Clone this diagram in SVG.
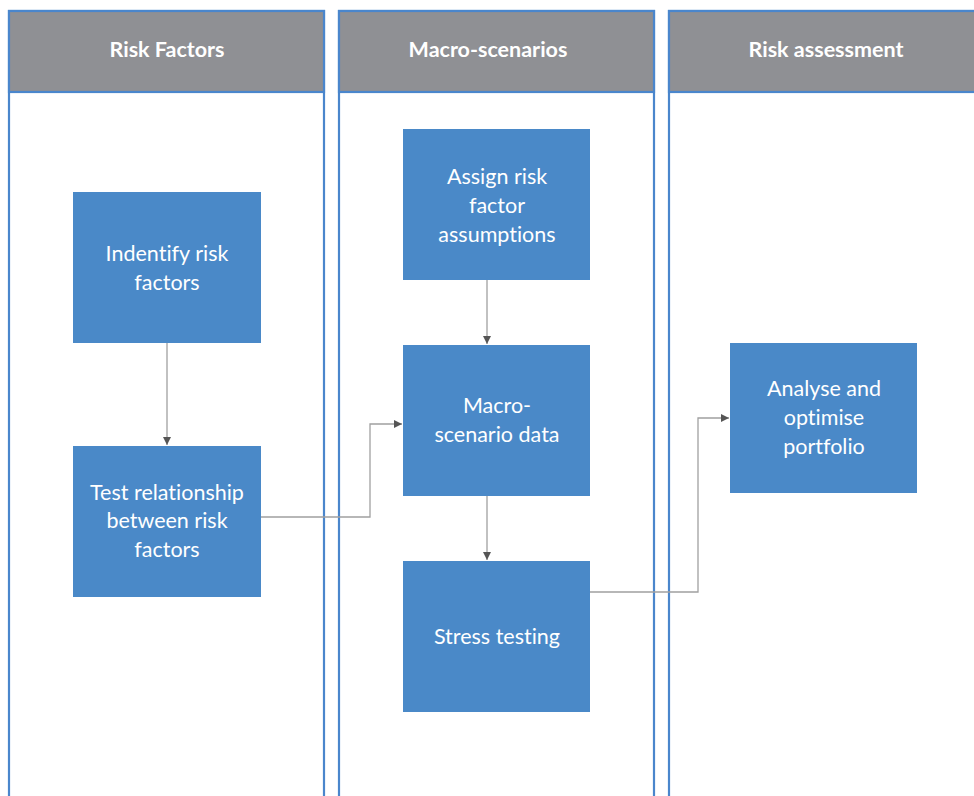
<svg xmlns="http://www.w3.org/2000/svg" width="974" height="796" viewBox="0 0 974 796">
<defs>
<style>
.lane{fill:#ffffff;stroke:#4a86cc;stroke-width:2.2}
.hdr{fill:#8f9094;stroke:#4a86cc;stroke-width:2.2}
.htxt{font-family:"Lato","Open Sans",sans-serif;font-weight:bold;font-size:21.5px;fill:#ffffff;text-anchor:middle;font-variant-ligatures:none}
.box{fill:#4a89c8}
.ntxt{font-family:"Lato","Open Sans",sans-serif;font-size:21.5px;fill:#ffffff;text-anchor:middle;font-variant-ligatures:none}
.con{fill:none;stroke:#a0a0a0;stroke-width:1.3}
</style>
<marker id="arr" markerWidth="10" markerHeight="10" refX="8" refY="4" orient="auto" markerUnits="userSpaceOnUse">
<path d="M0,0 L8,4 L0,8 Z" fill="#555555"/>
</marker>
</defs>
<rect width="974" height="796" fill="#ffffff"/>
<g id="lane-risk-factors">
<rect class="lane" x="9" y="11" width="315" height="800"/>
<rect class="hdr" x="9" y="11" width="315" height="81"/>
<text class="htxt" x="167" y="57">Risk Factors</text>
</g>
<g id="lane-macro-scenarios">
<rect class="lane" x="339" y="11" width="315" height="800"/>
<rect class="hdr" x="339" y="11" width="315" height="81"/>
<text class="htxt" x="488" y="57">Macro-scenarios</text>
</g>
<g id="lane-risk-assessment">
<rect class="lane" x="669" y="11" width="320" height="800"/>
<rect class="hdr" x="669" y="11" width="320" height="81"/>
<text class="htxt" x="826" y="57">Risk assessment</text>
</g>
<g id="connectors">
<path class="con" d="M167,343 L167,445" marker-end="url(#arr)"/>
<path class="con" d="M261,517 L370,517 L370,424 L402,424" marker-end="url(#arr)"/>
<path class="con" d="M487,280 L487,344" marker-end="url(#arr)"/>
<path class="con" d="M487,496 L487,560" marker-end="url(#arr)"/>
<path class="con" d="M590,592 L698,592 L698,418 L729,418" marker-end="url(#arr)"/>
</g>
<g id="node-identify">
<rect class="box" x="73" y="192" width="188" height="151"/>
<text class="ntxt" x="167" y="261">Indentify risk</text>
<text class="ntxt" x="167" y="290">factors</text>
</g>
<g id="node-test">
<rect class="box" x="73" y="446" width="188" height="151"/>
<text class="ntxt" x="167" y="500">Test relationship</text>
<text class="ntxt" x="167" y="528">between risk</text>
<text class="ntxt" x="167" y="557">factors</text>
</g>
<g id="node-assign">
<rect class="box" x="403" y="129" width="187" height="151"/>
<text class="ntxt" x="497" y="184">Assign risk</text>
<text class="ntxt" x="497" y="213">factor</text>
<text class="ntxt" x="497" y="242">assumptions</text>
</g>
<g id="node-macro">
<rect class="box" x="403" y="345" width="187" height="151"/>
<text class="ntxt" x="497" y="413">Macro-</text>
<text class="ntxt" x="497" y="442">scenario data</text>
</g>
<g id="node-stress">
<rect class="box" x="403" y="561" width="187" height="151"/>
<text class="ntxt" x="497" y="644">Stress testing</text>
</g>
<g id="node-analyse">
<rect class="box" x="730" y="343" width="187" height="150"/>
<text class="ntxt" x="824" y="396">Analyse and</text>
<text class="ntxt" x="824" y="425">optimise</text>
<text class="ntxt" x="824" y="454">portfolio</text>
</g>
</svg>
